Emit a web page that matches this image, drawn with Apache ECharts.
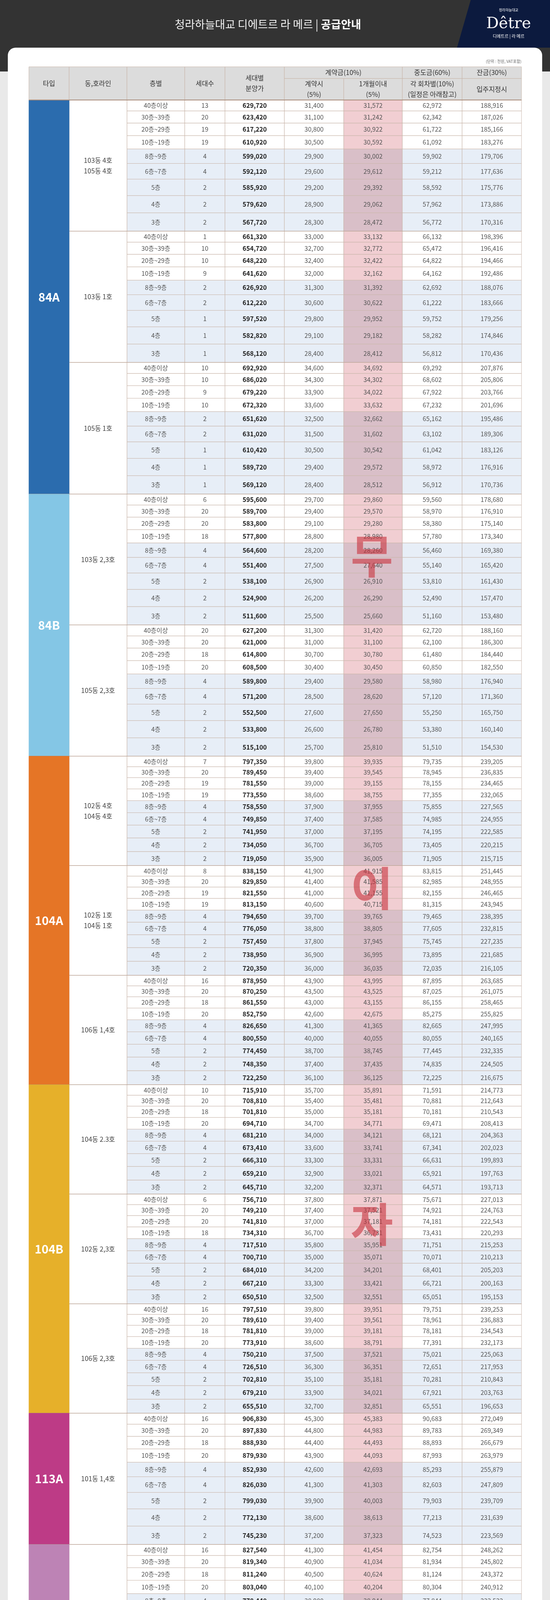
<!DOCTYPE html>
<html>
<head>
<meta charset="utf-8">
<script src="https://cdn.jsdelivr.net/npm/echarts@6/dist/echarts.min.js"></script>
<style>
  html, body { margin: 0; padding: 0; background: #e9e9e9; }
  #main { width: 1408px; height: 4429px; }
</style>
</head>
<body>
<div id="main"></div>
<script>
// 층별 구분
const floors = ['40층이상', '30층~39층', '20층~29층', '10층~19층', '8층~9층', '6층~7층', '5층', '4층', '3층'];
// 타입 / 동,호라인 (그룹별)
const groupTypes = ['84A', '84A', '84A', '84B', '84B', '104A', '104A', '104A', '104B', '104B', '104B', '113A', '113B'];
const groupLines = ['103동 4호\n105동 4호', '103동 1호', '105동 1호', '103동 2,3호', '105동 2,3호',
  '102동 4호\n104동 4호', '102동 1호\n104동 1호', '106동 1,4호', '104동 2.3호', '102동 2,3호', '106동 2,3호',
  '101동 1,4호', '101동 2,3호'];

const units = [
  [13, 20, 19, 19, 4, 4, 2, 2, 2], [1, 10, 10, 9, 2, 2, 1, 1, 1], [10, 10, 9, 10, 2, 2, 1, 1, 1],
  [6, 20, 20, 18, 4, 4, 2, 2, 2], [20, 20, 18, 20, 4, 4, 2, 2, 2],
  [7, 20, 19, 19, 4, 4, 2, 2, 2], [8, 20, 19, 19, 4, 4, 2, 2, 2], [16, 20, 18, 20, 4, 4, 2, 2, 2],
  [10, 20, 18, 20, 4, 4, 2, 2, 2], [6, 20, 20, 18, 4, 4, 2, 2, 2], [16, 20, 18, 20, 4, 4, 2, 2, 2],
  [16, 20, 18, 20, 4, 4, 2, 2, 2], [16, 20, 18, 20, 4, 4, 2, 2, 2]
];
const prices = [
  [629720, 623420, 617220, 610920, 599020, 592120, 585920, 579620, 567720],
  [661320, 654720, 648220, 641620, 626920, 612220, 597520, 582820, 568120],
  [692920, 686020, 679220, 672320, 651620, 631020, 610420, 589720, 569120],
  [595600, 589700, 583800, 577800, 564600, 551400, 538100, 524900, 511600],
  [627200, 621000, 614800, 608500, 589800, 571200, 552500, 533800, 515100],
  [797350, 789450, 781550, 773550, 758550, 749850, 741950, 734050, 719050],
  [838150, 829850, 821550, 813150, 794650, 776050, 757450, 738950, 720350],
  [878950, 870250, 861550, 852750, 826650, 800550, 774450, 748350, 722250],
  [715910, 708810, 701810, 694710, 681210, 673410, 666310, 659210, 645710],
  [756710, 749210, 741810, 734310, 717510, 700710, 684010, 667210, 650510],
  [797510, 789610, 781810, 773910, 750210, 726510, 702810, 679210, 655510],
  [906830, 897830, 888930, 879930, 852930, 826030, 799030, 772130, 745230],
  [827540, 819340, 811240, 803040, 778440, 753840, 729240, 704740, 680140]
];
// 계약시(5%)
const deposit1 = [
  [31400, 31100, 30800, 30500, 29900, 29600, 29200, 28900, 28300],
  [33000, 32700, 32400, 32000, 31300, 30600, 29800, 29100, 28400],
  [34600, 34300, 33900, 33600, 32500, 31500, 30500, 29400, 28400],
  [29700, 29400, 29100, 28800, 28200, 27500, 26900, 26200, 25500],
  [31300, 31000, 30700, 30400, 29400, 28500, 27600, 26600, 25700],
  [39800, 39400, 39000, 38600, 37900, 37400, 37000, 36700, 35900],
  [41900, 41400, 41000, 40600, 39700, 38800, 37800, 36900, 36000],
  [43900, 43500, 43000, 42600, 41300, 40000, 38700, 37400, 36100],
  [35700, 35400, 35000, 34700, 34000, 33600, 33300, 32900, 32200],
  [37800, 37400, 37000, 36700, 35800, 35000, 34200, 33300, 32500],
  [39800, 39400, 39000, 38600, 37500, 36300, 35100, 33900, 32700],
  [45300, 44800, 44400, 43900, 42600, 41300, 39900, 38600, 37200],
  [41300, 40900, 40500, 40100, 38900, 37600, 36400, 35200, 34000]
];
// 1개월이내(5%)
const deposit2 = [
  [31572, 31242, 30922, 30592, 30002, 29612, 29392, 29062, 28472],
  [33132, 32772, 32422, 32162, 31392, 30622, 29952, 29182, 28412],
  [34692, 34302, 34022, 33632, 32662, 31602, 30542, 29572, 28512],
  [29860, 29570, 29280, 28980, 28260, 27640, 26910, 26290, 25660],
  [31420, 31100, 30780, 30450, 29580, 28620, 27650, 26780, 25810],
  [39935, 39545, 39155, 38755, 37955, 37585, 37195, 36705, 36005],
  [41915, 41585, 41155, 40715, 39765, 38805, 37945, 36995, 36035],
  [43995, 43525, 43155, 42675, 41365, 40055, 38745, 37435, 36125],
  [35891, 35481, 35181, 34771, 34121, 33741, 33331, 33021, 32371],
  [37871, 37521, 37181, 36731, 35951, 35071, 34201, 33421, 32551],
  [39951, 39561, 39181, 38791, 37521, 36351, 35181, 34021, 32851],
  [45383, 44983, 44493, 44093, 42693, 41303, 40003, 38613, 37323],
  [41454, 41034, 40624, 40204, 38944, 37784, 36524, 35274, 34014]
];
// 중도금 각 회차별(10%)
const middle = [
  [62972, 62342, 61722, 61092, 59902, 59212, 58592, 57962, 56772],
  [66132, 65472, 64822, 64162, 62692, 61222, 59752, 58282, 56812],
  [69292, 68602, 67922, 67232, 65162, 63102, 61042, 58972, 56912],
  [59560, 58970, 58380, 57780, 56460, 55140, 53810, 52490, 51160],
  [62720, 62100, 61480, 60850, 58980, 57120, 55250, 53380, 51510],
  [79735, 78945, 78155, 77355, 75855, 74985, 74195, 73405, 71905],
  [83815, 82985, 82155, 81315, 79465, 77605, 75745, 73895, 72035],
  [87895, 87025, 86155, 85275, 82665, 80055, 77445, 74835, 72225],
  [71591, 70881, 70181, 69471, 68121, 67341, 66631, 65921, 64571],
  [75671, 74921, 74181, 73431, 71751, 70071, 68401, 66721, 65051],
  [79751, 78961, 78181, 77391, 75021, 72651, 70281, 67921, 65551],
  [90683, 89783, 88893, 87993, 85293, 82603, 79903, 77213, 74523],
  [82754, 81934, 81124, 80304, 77844, 75384, 72924, 70474, 68014]
];
// 잔금 입주지정시(30%)
const balance = [
  [188916, 187026, 185166, 183276, 179706, 177636, 175776, 173886, 170316],
  [198396, 196416, 194466, 192486, 188076, 183666, 179256, 174846, 170436],
  [207876, 205806, 203766, 201696, 195486, 189306, 183126, 176916, 170736],
  [178680, 176910, 175140, 173340, 169380, 165420, 161430, 157470, 153480],
  [188160, 186300, 184440, 182550, 176940, 171360, 165750, 160140, 154530],
  [239205, 236835, 234465, 232065, 227565, 224955, 222585, 220215, 215715],
  [251445, 248955, 246465, 243945, 238395, 232815, 227235, 221685, 216105],
  [263685, 261075, 258465, 255825, 247995, 240165, 232335, 224505, 216675],
  [214773, 212643, 210543, 208413, 204363, 202023, 199893, 197763, 193713],
  [227013, 224763, 222543, 220293, 215253, 210213, 205203, 200163, 195153],
  [239253, 236883, 234543, 232173, 225063, 217953, 210843, 203763, 196653],
  [272049, 269349, 266679, 263979, 255879, 247809, 239709, 231639, 223569],
  [248262, 245802, 243372, 240912, 233532, 226152, 218772, 211422, 204042]
];
const typeColors = { '84A': '#2b6cae', '84B': '#84c6e5', '104A': '#e57526', '104B': '#e6b02a', '113A': '#bd3b86', '113B': '#bd83b5' };

// layout (px inside the table grid)
const colEdges = [0, 103, 251, 399, 502, 654, 806, 956, 1109, 1261];
const headerH = 85, headerSplit = 30;
const groupH = [336, 336, 337, 335, 336, 280, 281, 280, 280, 281, 280, 336, 337];
const tallProfile = [28, 31, 32, 34, 37, 40, 42, 44, 47];
const shortProfile = [27, 28, 29, 30, 31, 32, 33, 35, 36];
const tableH = headerH + groupH.reduce((a, b) => a + b, 0);

const fmt = v => v.toLocaleString('en-US');
const cells = [];
function cell(x0, x1, y0, y1, text, kind) { cells.push([x0, x1, y0, y1, text, kind]); }

// header
const hc = colEdges;
['타입', '동,호라인', '층별', '세대수', '세대별\n분양가'].forEach((t, i) => cell(hc[i], hc[i + 1], 0, headerH, t, 'head'));
cell(hc[5], hc[7], 0, headerSplit, '계약금(10%)', 'head');
cell(hc[7], hc[8], 0, headerSplit, '중도금(60%)', 'head');
cell(hc[8], hc[9], 0, headerSplit, '잔금(30%)', 'head');
cell(hc[5], hc[6], headerSplit, headerH, '계약시\n(5%)', 'head');
cell(hc[6], hc[7], headerSplit, headerH, '1개월이내\n(5%)', 'head');
cell(hc[7], hc[8], headerSplit, headerH, '각 회차별(10%)\n(일정은 아래참고)', 'head');
cell(hc[8], hc[9], headerSplit, headerH, '입주지정시', 'head');

let y = headerH;
let typeStart = y;
groupTypes.forEach((type, g) => {
  const prof = groupH[g] > 300 ? tallProfile : shortProfile;
  const tot = prof.reduce((a, b) => a + b, 0);
  const g0 = y;
  let ry = y;
  floors.forEach((f, r) => {
    const h = prof[r] * groupH[g] / tot;
    const blue = r >= 4;
    const vals = [f, units[g][r], fmt(prices[g][r]), fmt(deposit1[g][r]), fmt(deposit2[g][r]), fmt(middle[g][r]), fmt(balance[g][r])];
    vals.forEach((v, c) => {
      let kind = blue ? 'blue' : 'white';
      if (c === 2) kind += 'Bold';
      if (c === 4) kind += 'Pink';
      cell(colEdges[c + 2], colEdges[c + 3], ry, ry + h, String(v), kind);
    });
    ry += h;
  });
  y = g0 + groupH[g];
  cell(colEdges[1], colEdges[2], g0, y, groupLines[g], 'line');
  cell(colEdges[1], colEdges[9], y, y, '', 'sep');
  if (g === groupTypes.length - 1 || groupTypes[g + 1] !== type) {
    cell(colEdges[0], colEdges[1], typeStart, y, type, 'type');
    cell(colEdges[0], colEdges[9], y, y, '', 'sep');
    typeStart = y;
  }
});
cell(colEdges[0], colEdges[9], headerH, headerH, '', 'sep');

const styles = {
  head: { fill: '#dcdcdc', color: '#333', size: 17, weight: 'normal' },
  white: { fill: '#ffffff', color: '#555', size: 16, weight: 'normal' },
  blue: { fill: '#e7eef7', color: '#555', size: 16, weight: 'normal' },
  whiteBold: { fill: '#ffffff', color: '#1e1e1e', size: 16, weight: 'bold' },
  blueBold: { fill: '#e7eef7', color: '#1e1e1e', size: 16, weight: 'bold' },
  whitePink: { fill: '#f1ced2', color: '#555', size: 16, weight: 'normal' },
  bluePink: { fill: '#d9bfc8', color: '#555', size: 16, weight: 'normal' },
  line: { fill: '#ffffff', color: '#444', size: 17, weight: 'normal' },
  type: { fill: null, color: '#fff', size: 30, weight: 'bold' }
};

function renderItem(params, api) {
  const d = cells[params.dataIndex];
  const p0 = api.coord([d[0], d[2]]);
  const p1 = api.coord([d[1], d[3]]);
  if (d[5] === 'sep') {
    return { type: 'line', shape: { x1: p0[0], y1: p0[1], x2: p1[0], y2: p1[1] },
      style: { stroke: '#a88a78', lineWidth: 2 } };
  }
  const s = styles[d[5]];
  const fill = d[5] === 'type' ? typeColors[d[4]] : s.fill;
  return {
    type: 'rect',
    shape: { x: p0[0], y: p0[1], width: p1[0] - p0[0], height: p1[1] - p0[1] },
    style: { fill: fill, stroke: d[5] === 'type' ? fill : '#c9b6aa', lineWidth: 1 },
    textContent: {
      style: { text: d[4], fill: s.color, fontSize: s.size, fontWeight: s.weight, align: 'center',
        verticalAlign: 'middle', lineHeight: s.size + 10, fontFamily: 'Noto Sans CJK KR' }
    },
    textConfig: { position: 'inside' }
  };
}

const notes = [
  ['※본 홍보물에 표시된 분양금액 등은 인쇄 상의 오류로 실제 분양금액과 상이할 수 있으며, 입주자모집공고에 기재된 분양금액이 우선합니다.', ' ※본 아파트는 중도금 대출 시 이자후불제 조건으로 전체 공급대금의 60% 범위 내에서 중도금 융자알선을 시행할 예정이며, 중도금 대출이자를 사업주체에서 대납할 경우 대출이자 대납기간은 대출개시일로부터 사업주'],
  ['', '체가 지정하는 최초 입주개시일 전일까지입니다. ※중도금 대출에 필요한 대출취급(보증)수수료(집단대출 보증기관의 보증수수료 등), 인지대 등 제반경비는 금융기관 등에서 정한 방법에 따라 계약자가 직접 납부 및 부담해야 합니다. ※단, 중도금 대출 알선불가 및 개인의 신용 및 보유주택수, 보증서 발급제한 등의 사유로 대출이 어려울 경우 본인이 직접 자금을'],
  ['', '조달하여 납부하여야 합니다. ※자세한 사항은 입주자모집공고문을 참고하시기 바랍니다. ※상기 \'분양가\' 외 추가 선택품목 금액은 입주자모집공고를 참고하기 바랍니다. ※상기 금액은 특정 조망(오션뷰 등)을 전제로 산출되지 않았으며, 주택형, 층, 향, 조망 등을 종합적으로 고려하여 책정한 금액입니다. 이와 관련하여 사업주체에 이의를 제기할 수 없습니다. ※중'],
  ['', '도금 일정은 26.07.25(1회차)를 시작으로 26.12.25(2회차), 27.06.25(3회차), 28.06.25(4회차), 28.10.25(5회차), 29.02.25(6회차)로 예정되어 있습니다.']
];
const ctx = document.createElement('canvas').getContext('2d');
ctx.font = '10px "Noto Sans CJK KR"';
const noteScale = 1261 / ctx.measureText(notes[1][1]).width;
const noteEls = notes.map((n, i) => ({
  type: 'text', x: 74, y: 4311 + i * 11.5, scaleX: noteScale,
  style: { text: '{r|' + n[0] + '}{g|' + n[1] + '}', rich: {
    r: { fill: '#e0393e', fontSize: 10, fontFamily: 'Noto Sans CJK KR' },
    g: { fill: '#666', fontSize: 10, fontFamily: 'Noto Sans CJK KR' } } }
}));

const watermark = [['무', 1364], ['이', 2215], ['자', 3075]].map(w => ({
  type: 'text', x: 952, y: w[1], z: 100,
  style: { text: w[0], fill: 'rgba(200,50,60,0.6)', fontSize: 118, fontWeight: 'bold',
    fontFamily: 'Noto Sans CJK KR', align: 'center' }
}));

const option = {
  animation: false,
  backgroundColor: '#e9e9e9',
  graphic: [
    { type: 'rect', z: -10, shape: { x: 0, y: 0, width: 1408, height: 183 }, style: { fill: '#333333' } },
    { type: 'polygon', z: -9, shape: { points: [[1205, 0], [1408, 0], [1408, 122], [1170, 122]] }, style: { fill: '#0c1a3e' } },
    { type: 'rect', z: -8, shape: { x: 20, y: 122, width: 1368, height: 4284, r: 20 }, style: { fill: '#ffffff' } },
    { type: 'text', x: 686, y: 62, style: { text: '{n|청라하늘대교 디에트르 라 메르 | }{b|공급안내}', align: 'center', verticalAlign: 'middle',
      rich: { n: { fill: '#f2f2f2', fontSize: 28, fontFamily: 'Noto Sans CJK KR' },
              b: { fill: '#ffffff', fontSize: 28, fontWeight: 'bold', fontFamily: 'Noto Sans CJK KR' } } } },
    { type: 'text', x: 1302, y: 26, style: { text: '청라하늘대교', fill: '#fff', fontSize: 9, align: 'center', verticalAlign: 'middle', fontFamily: 'Noto Sans CJK KR' } },
    { type: 'text', x: 1302, y: 62, style: { text: 'Dêtre', fill: '#fff', fontSize: 40, align: 'center', verticalAlign: 'middle', fontFamily: 'DejaVu Serif' } },
    { type: 'text', x: 1302, y: 93, style: { text: '디에트르 | 라 메르', fill: '#fff', fontSize: 11, align: 'center', verticalAlign: 'middle', fontFamily: 'Noto Sans CJK KR' } },
    { type: 'text', x: 1335, y: 157, style: { text: '(단위 : 천원, VAT포함)', fill: '#666', fontSize: 10, align: 'right', verticalAlign: 'middle', fontFamily: 'Noto Sans CJK KR' } },
    { type: 'line', shape: { x1: 74, y1: 4291, x2: 1335, y2: 4291 }, style: { stroke: '#b89a86', lineWidth: 3 } },
    ...noteEls,
    ...watermark
  ],
  grid: { left: 74, top: 171, width: 1261, height: tableH },
  xAxis: { type: 'value', min: 0, max: 1261, show: false },
  yAxis: { type: 'value', min: 0, max: tableH, inverse: true, show: false },
  series: [{ type: 'custom', renderItem, data: cells.map((c, i) => [i]), clip: false }]
};

const chartDom = document.getElementById('main');
const myChart = echarts.init(chartDom);
myChart.setOption(option);
</script>
</body>
</html>
